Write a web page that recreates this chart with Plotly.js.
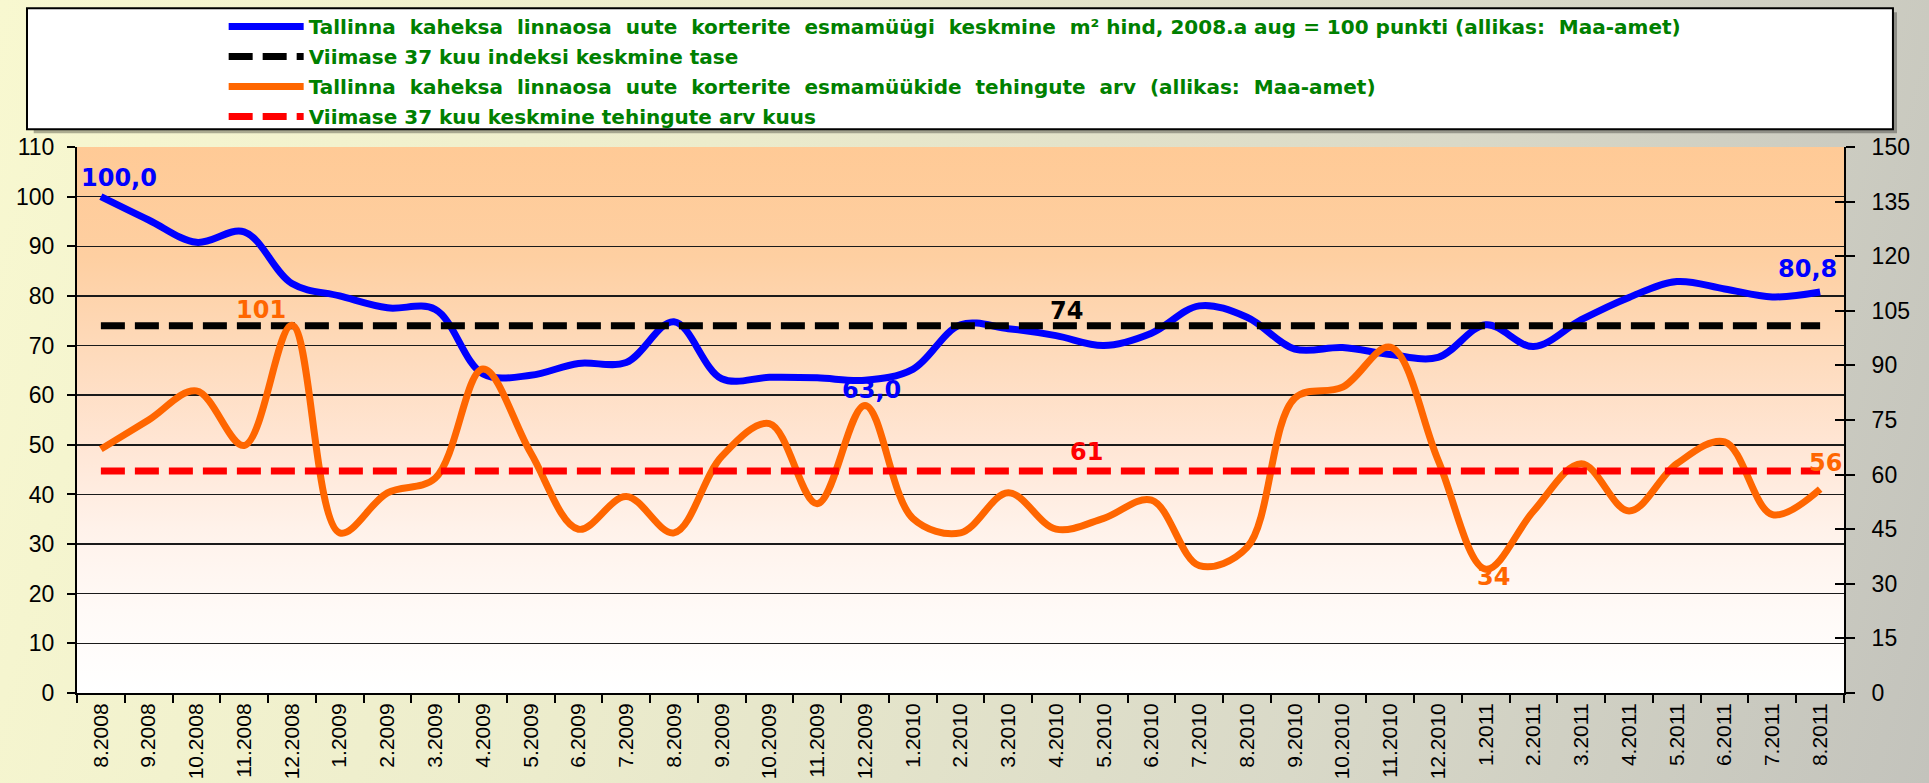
<!DOCTYPE html>
<html>
<head>
<meta charset="utf-8">
<script src="https://cdn.plot.ly/plotly-3.0.1.min.js"></script>
<style>
html,body{margin:0;padding:0;overflow:hidden;}
#chart{width:1929px;height:783px;background:linear-gradient(105deg,#f8f8d0 0%,#ececcc 35%,#d9d9c8 70%,#c3c3bc 100%);}
</style>
</head>
<body>
<div id="chart"></div>
<script>
// ---- data ----
const months = ['8.2008','9.2008','10.2008','11.2008','12.2008','1.2009','2.2009','3.2009','4.2009','5.2009','6.2009','7.2009','8.2009','9.2009','10.2009','11.2009','12.2009','1.2010','2.2010','3.2010','4.2010','5.2010','6.2010','7.2010','8.2010','9.2010','10.2010','11.2010','12.2010','1.2011','2.2011','3.2011','4.2011','5.2011','6.2011','7.2011','8.2011'];
const priceIndex = [100.0,95.3,90.8,92.9,82.5,80.0,77.6,77.3,64.3,64.0,66.4,66.6,74.8,63.3,63.6,63.5,63.0,65.2,74.2,73.4,72.0,70.0,72.5,78.0,75.7,69.3,69.6,68.2,67.6,74.2,69.8,75.2,79.7,82.9,81.4,79.8,80.8];
const deals = [67,75,83,68,101,44,55,59,89,66,45,54,44,65,74,52,79,48,44,55,45,48,53,35,40,81,84,95,64,34,50,63,50,63,69,49,56];
const avgIndex = 74;
const avgDeals = 61;
const leftTicks = [0,10,20,30,40,50,60,70,80,90,100,110];
const rightTicks = [0,15,30,45,60,75,90,105,120,135,150];
const S = '\u00a0\u00a0';
const names = [
  ['Tallinna','kaheksa','linnaosa','uute','korterite','esmamüügi','keskmine','m² hind, 2008.a aug = 100 punkti (allikas:','Maa-amet)'].join(S),
  'Viimase 37 kuu indeksi keskmine tase',
  ['Tallinna','kaheksa','linnaosa','uute','korterite','esmamüükide','tehingute','arv','(allikas:','Maa-amet)'].join(S),
  'Viimase 37 kuu keskmine tehingute arv kuus'
];
const fmt = v => v.toFixed(1).replace('.', ',');
const first = months[0], last = months[months.length-1];

const traces = [
  {x: months, y: priceIndex, name: names[0], legendgroup:'a', type:'scatter', mode:'lines',
   line:{color:'#0000ff', width:7, shape:'spline', smoothing:1}, yaxis:'y', hoverinfo:'skip'},
  {x: [first,last], y: [avgIndex,avgIndex], name: names[1], legendgroup:'b', type:'scatter', mode:'lines',
   line:{color:'#000000', width:7, dash:'24px,10px'}, yaxis:'y', hoverinfo:'skip'},
  {x: months, y: deals, name: names[2], legendgroup:'c', type:'scatter', mode:'lines',
   line:{color:'#ff6600', width:7, shape:'spline', smoothing:1}, yaxis:'y2', hoverinfo:'skip'},
  {x: [first,last], y: [avgDeals,avgDeals], name: names[3], legendgroup:'d', type:'scatter', mode:'lines',
   line:{color:'#ff0000', width:7, dash:'24px,10px'}, yaxis:'y2', hoverinfo:'skip'},
  // carrier for the inner half of the right-axis tick marks
  {x: [first], y: [null], yaxis:'y3', type:'scatter', mode:'lines', showlegend:false, hoverinfo:'skip'}
];

const lblFont = (c) => ({family:'DejaVu Sans', size:24, color:c, weight:'bold'});
// x given as category index (month strings look numeric to annotations)
const ann = (i,y,yref,text,color,xs,ys) => ({x:i, y:y, xref:'x', yref:yref, text:text, showarrow:false,
  xanchor:'center', yanchor:'middle', xshift:xs, yshift:ys, font:lblFont(color)});
const n = months.length-1;
const annotations = [
  ann(0, priceIndex[0], 'y', fmt(priceIndex[0]), '#0000ff', 18, 19),
  ann(16, priceIndex[16], 'y', fmt(priceIndex[16]), '#0000ff', 7, -10),
  ann(n, priceIndex[n], 'y', fmt(priceIndex[n]), '#0000ff', -13, 23),
  ann(4, deals[4], 'y2', String(deals[4]), '#ff6600', -31, 15),
  ann(29, deals[29], 'y2', String(deals[29]), '#ff6600', 8, -8),
  ann(n, deals[n], 'y2', String(deals[n]), '#ff6600', 5, 26),
  ann(20, avgIndex, 'y', String(avgIndex), '#000000', 10, 15),
  ann(21, avgDeals, 'y2', String(avgDeals), '#ff0000', -17, 19)
];

const grad = "<svg xmlns='http://www.w3.org/2000/svg' width='100' height='100' preserveAspectRatio='none'>" +
  "<defs><linearGradient id='g' x1='0' y1='0' x2='0' y2='1'>" +
  "<stop offset='0' stop-color='#ffca96'/><stop offset='0.2' stop-color='#fecfa1'/>" +
  "<stop offset='0.4' stop-color='#fedcbf'/><stop offset='0.55' stop-color='#ffe6d5'/>" +
  "<stop offset='0.7' stop-color='#fff2ea'/><stop offset='0.85' stop-color='#fffaf7'/>" +
  "<stop offset='1' stop-color='#ffffff'/></linearGradient></defs>" +
  "<rect width='100' height='100' fill='url(#g)'/></svg>";

const tickFont = {family:'Liberation Sans, Arial', size:23, color:'#000'};

const layout = {
  width:1929, height:783,
  margin:{l:77, r:85, t:147, b:90, autoexpand:false},
  paper_bgcolor:'rgba(0,0,0,0)',
  plot_bgcolor:'rgba(0,0,0,0)',
  showlegend:true,
  legend:{x:0.083, y:1.2565, xanchor:'left', yanchor:'top', bgcolor:'rgba(0,0,0,0)', borderwidth:0,
    font:{family:'DejaVu Sans', size:20, color:'#008000', weight:'bold'},
    itemwidth:75, tracegroupgap:1, traceorder:'grouped'},
  xaxis:{type:'category', categoryorder:'array', categoryarray:months, range:[-0.5, months.length-0.5],
    tickson:'boundaries', ticks:'outside', ticklen:8, tickwidth:2, tickcolor:'#000',
    showline:true, linecolor:'#000', linewidth:2, showgrid:false, zeroline:false,
    tickangle:-90, tickfont:{family:'Liberation Sans, Arial', size:21, color:'#000'}, automargin:false, fixedrange:true},
  yaxis:{range:[0,110], tickvals:leftTicks, ticks:'outside', ticklen:8, tickwidth:2, tickcolor:'#000',
    showline:true, linecolor:'#000', linewidth:2, showgrid:true, gridcolor:'#1a1a1a', gridwidth:1.5,
    zeroline:false, tickfont:tickFont, ticklabelstandoff:8, automargin:false, fixedrange:true},
  yaxis2:{range:[0,150], tickvals:rightTicks, overlaying:'y', side:'right', ticks:'outside', ticklen:9, tickwidth:2, tickcolor:'#000',
    showline:true, linecolor:'#000', linewidth:2, showgrid:false, zeroline:false, tickfont:tickFont,
    ticklabelstandoff:12, automargin:false, fixedrange:true},
  yaxis3:{range:[0,150], tickvals:rightTicks, overlaying:'y', side:'right', ticks:'inside', ticklen:9, tickwidth:2, tickcolor:'#000',
    showline:false, showgrid:false, zeroline:false, showticklabels:false, automargin:false, fixedrange:true},
  images:[{source:'data:image/svg+xml;charset=utf-8,' + encodeURIComponent(grad), xref:'paper', yref:'paper',
    x:0, y:1, sizex:1, sizey:1, sizing:'stretch', layer:'below', xanchor:'left', yanchor:'top'}],
  shapes:[
    {type:'rect', xref:'paper', yref:'paper', x0:-0.0245, x1:1.0300, y0:1.025, y1:1.247,
     fillcolor:'rgba(0,0,0,0.3)', line:{width:0}, layer:'below'},
    {type:'rect', xref:'paper', yref:'paper', x0:-0.0283, x1:1.0277, y0:1.0325, y1:1.2540,
     fillcolor:'#ffffff', line:{color:'#000', width:2}, layer:'below'}
  ],
  annotations:annotations
};

Plotly.newPlot('chart', traces, layout, {displayModeBar:false, staticPlot:true});
</script>
</body>
</html>
